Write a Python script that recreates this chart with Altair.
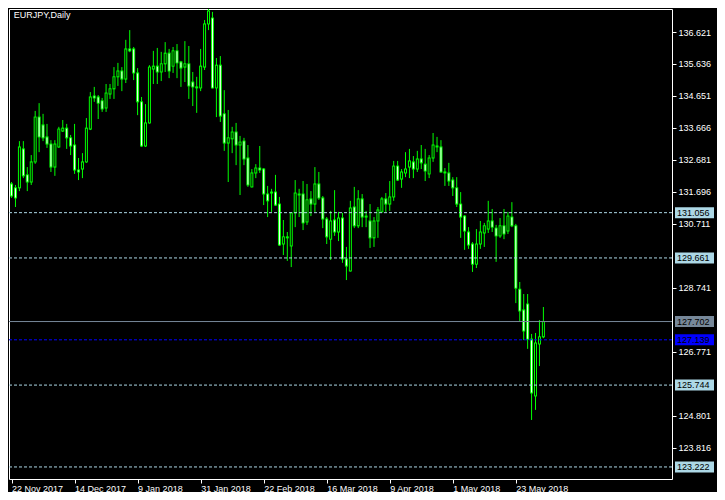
import altair as alt
import pandas as pd

# ---- EURJPY daily candles (22 Nov 2017 .. 1 Jun 2018) ----
open_ = [131.94, 131.82, 131.82, 133.02, 132.22, 132.00, 132.62, 134.00, 133.76, 133.39,
         133.17, 132.46, 133.08, 133.57, 133.66, 133.36, 133.14, 132.37, 132.40, 132.62,
         133.63, 134.65, 134.62, 134.50, 134.28, 134.71, 134.87, 135.24, 135.42, 135.17,
         136.10, 136.10, 135.36, 134.47, 133.11, 133.82, 135.48, 135.57, 135.39, 135.64,
         135.97, 135.57, 136.04, 135.70, 135.54, 135.64, 135.08, 134.93, 134.90, 135.54,
         136.87, 137.05, 134.90, 135.60, 134.10, 133.20, 133.33, 133.54, 133.14, 133.26,
         132.74, 131.85, 132.28, 132.43, 132.40, 131.63, 131.66, 131.69, 131.32, 130.09,
         130.31, 130.03, 131.05, 131.63, 131.63, 130.77, 131.48, 131.32, 131.94, 131.51,
         130.86, 130.24, 130.83, 130.46, 130.89, 129.63, 129.26, 131.23, 130.65, 131.48,
         130.95, 130.80, 130.28, 130.80, 131.08, 131.48, 131.32, 131.54, 132.49, 132.09,
         132.28, 132.46, 132.62, 132.40, 132.71, 132.55, 132.25, 132.74, 133.11, 133.08,
         132.31, 132.28, 132.06, 131.82, 131.32, 130.95, 130.46, 130.09, 129.47, 130.09,
         130.43, 130.55, 130.80, 130.58, 130.34, 130.65, 130.49, 130.92, 130.65, 128.70,
         128.06, 128.24, 127.16, 125.41, 127.01, 127.23]
high = [132.00, 131.91, 133.26, 133.26, 132.46, 132.83, 134.19, 134.43, 134.10, 133.79,
        133.29, 133.29, 133.70, 133.91, 133.79, 133.45, 133.79, 132.74, 132.89, 133.97,
        134.77, 134.93, 134.68, 134.59, 135.02, 135.02, 135.54, 135.67, 135.54, 136.38,
        136.68, 136.16, 135.51, 134.62, 134.40, 135.60, 136.04, 136.13, 136.01, 136.31,
        136.10, 136.16, 136.25, 135.73, 136.34, 136.19, 135.39, 135.24, 136.10, 136.99,
        137.52, 137.24, 135.82, 135.88, 134.83, 134.22, 133.70, 133.82, 133.42, 133.36,
        133.14, 132.40, 132.55, 133.11, 132.43, 131.88, 131.79, 132.22, 131.54, 130.83,
        130.46, 131.06, 132.06, 131.79, 132.03, 131.94, 131.72, 132.46, 132.31, 131.57,
        130.92, 131.11, 131.75, 131.08, 131.05, 130.00, 131.42, 131.85, 131.75, 131.63,
        131.11, 131.32, 130.92, 131.23, 131.54, 131.66, 132.03, 132.65, 132.65, 132.40,
        132.92, 133.02, 132.80, 132.96, 133.14, 133.02, 132.83, 133.51, 133.39, 133.29,
        132.43, 132.59, 132.15, 132.15, 131.69, 130.98, 130.61, 130.15, 130.55, 130.80,
        130.74, 131.42, 131.17, 130.68, 130.89, 131.17, 131.08, 131.38, 130.71, 128.92,
        128.55, 128.55, 127.32, 127.35, 127.75, 128.15]
low = [131.51, 131.23, 131.72, 132.12, 131.72, 131.91, 132.56, 132.92, 133.26, 133.05,
       132.31, 132.19, 133.05, 133.54, 133.02, 132.83, 132.25, 132.06, 132.12, 132.59,
       133.60, 134.47, 133.94, 134.16, 134.16, 134.56, 134.56, 134.96, 134.80, 135.05,
       136.00, 135.14, 134.06, 133.08, 133.08, 133.80, 135.02, 135.02, 135.11, 135.39,
       135.20, 135.36, 135.20, 134.93, 135.08, 134.56, 134.34, 134.13, 134.80, 135.45,
       136.68, 134.88, 134.00, 133.85, 132.96, 132.00, 132.89, 132.52, 131.60, 132.52,
       131.85, 131.83, 132.12, 132.28, 131.29, 130.92, 131.08, 131.26, 130.03, 129.75,
       129.57, 129.38, 130.61, 130.92, 130.52, 130.68, 130.95, 131.08, 131.45, 130.58,
       130.09, 129.60, 130.34, 130.18, 129.51, 128.98, 129.24, 130.58, 130.58, 130.61,
       130.61, 129.97, 130.00, 130.28, 131.06, 131.08, 131.11, 131.42, 132.03, 131.82,
       132.15, 132.12, 132.12, 132.31, 132.40, 132.03, 132.12, 132.62, 132.92, 132.28,
       131.88, 131.88, 131.57, 131.23, 130.28, 129.91, 129.94, 129.23, 129.35, 129.94,
       130.00, 130.43, 130.46, 129.54, 130.28, 130.24, 130.40, 130.61, 128.27, 127.69,
       127.13, 126.86, 124.67, 124.98, 126.33, 127.19]
close = [131.57, 131.51, 133.08, 132.19, 132.00, 132.62, 134.00, 133.39, 133.36, 133.17,
         132.46, 133.17, 133.63, 133.66, 133.36, 133.11, 132.37, 132.31, 132.62, 133.66,
         134.62, 134.59, 134.43, 134.25, 134.74, 134.87, 135.24, 135.42, 135.17, 136.10,
         136.04, 135.36, 134.47, 133.11, 133.82, 135.54, 135.57, 135.39, 135.64, 135.97,
         135.42, 136.04, 135.67, 135.51, 135.64, 134.96, 134.93, 134.90, 135.57, 136.87,
         137.27, 134.90, 135.60, 134.03, 133.20, 133.36, 133.54, 133.14, 133.23, 132.71,
         131.91, 132.28, 132.43, 132.37, 131.63, 131.42, 131.69, 131.29, 130.06, 130.31,
         130.28, 131.05, 131.66, 131.60, 130.74, 131.45, 131.32, 131.94, 131.51, 130.86,
         130.31, 130.80, 130.46, 130.89, 129.63, 129.41, 131.20, 130.65, 131.48, 130.92,
         130.92, 130.28, 130.80, 131.14, 131.48, 131.32, 131.54, 132.49, 132.06, 132.31,
         132.40, 132.65, 132.40, 132.71, 132.59, 132.34, 132.74, 133.14, 133.08, 132.31,
         132.28, 132.03, 131.82, 131.32, 130.92, 130.49, 130.06, 129.47, 130.09, 130.46,
         130.65, 130.80, 130.61, 130.34, 130.65, 130.40, 130.95, 130.65, 128.73, 128.03,
         127.41, 127.16, 125.50, 127.04, 127.23, 127.70]

# ---- axis texts ----
tick_index = [0, 16, 32, 48, 64, 80, 96, 112, 128]
tick_label = ["22 Nov 2017", "14 Dec 2017", "9 Jan 2018", "31 Jan 2018", "22 Feb 2018",
              "16 Mar 2018", "9 Apr 2018", "1 May 2018", "23 May 2018"]
price_ticks = [136.621, 135.636, 134.651, 133.666, 132.681, 131.696, 130.711,
               128.741, 126.771, 124.801, 123.816]

# ---- horizontal price levels ----
level_price = [131.056, 129.661, 127.702, 127.139, 125.744, 123.222]
level_color = ["#add8e6", "#add8e6", "#778899", "#0000ff", "#add8e6", "#add8e6"]
level_dashed = [True, True, False, True, True, True]
title_text = "EURJPY,Daily"

FONT = "Liberation Sans, Arial, sans-serif"
LIME = "#00ff00"

n = len(open_)
df = pd.DataFrame({"i": list(range(n)), "open": open_, "high": high, "low": low, "close": close})
df["top"] = df[["open", "close"]].max(axis=1)
df["bot"] = df[["open", "close"]].min(axis=1)

levels = pd.DataFrame({"price": level_price, "col": level_color, "dashed": level_dashed})
levels["text"] = [f"{v:.3f}" for v in level_price]

label_expr = " : ".join(f"datum.value == {k} ? '{s}'" for k, s in zip(tick_index, tick_label)) + " : ''"

# 4 px per trading day
x_scale = alt.Scale(domain=[0.625, 166.375], nice=False, zero=False)
y_scale = alt.Scale(domain=[122.851, 137.330], nice=False, zero=False)

x_axis = alt.Axis(values=tick_index, labelExpr=label_expr, labelAlign="left",
                  labelBaseline="top", tickSize=4, labelPadding=1, labelFlush=False,
                  labelOverlap=False, labelBound=False, title=None)
y_axis = alt.Axis(orient="right", values=price_ticks, format=".3f", tickSize=4,
                  labelPadding=2, labelOverlap=False, labelFlush=False, title=None)

wicks = alt.Chart(df).mark_rule(color=LIME, strokeWidth=1, clip=True).encode(
    x=alt.X("i:Q", scale=x_scale, axis=x_axis),
    y=alt.Y("low:Q", scale=y_scale, axis=y_axis),
    y2="high:Q",
)

body_outer = alt.Chart(df).mark_bar(width=3, color=LIME, clip=True,
                                    yOffset=-0.5, y2Offset=0.5).encode(
    x=alt.X("i:Q", scale=x_scale, axis=x_axis),
    y=alt.Y("top:Q", scale=y_scale, axis=y_axis),
    y2="bot:Q",
)

body_inner = alt.Chart(df).transform_filter(
    "datum.top - datum.bot > 0.045"
).mark_bar(width=1, clip=True, yOffset=0.5, y2Offset=-0.5).encode(
    x=alt.X("i:Q", scale=x_scale, axis=x_axis),
    y=alt.Y("top:Q", scale=y_scale, axis=y_axis),
    y2="bot:Q",
    color=alt.condition("datum.close < datum.open", alt.value("#ffffff"), alt.value("#000000")),
)

# price-level lines are drawn over the candles, as the terminal does with objects
lines = alt.Chart(levels).mark_rule(strokeWidth=1, clip=True).encode(
    y=alt.Y("price:Q", scale=y_scale, axis=y_axis),
    color=alt.Color("col:N", scale=None),
    strokeDash=alt.condition("datum.dashed", alt.value([3, 2]), alt.value([1, 0])),
)

boxes = alt.Chart(levels).mark_rect(yOffset=-5.5, y2Offset=5.5).encode(
    x=alt.value(666), x2=alt.value(705),
    y=alt.Y("price:Q", scale=y_scale, axis=y_axis),
    y2="price:Q",
    color=alt.Color("col:N", scale=None),
)

box_text = alt.Chart(levels).mark_text(align="left", baseline="middle", font=FONT,
                                       fontSize=9, color="#000000").encode(
    x=alt.value(668),
    y=alt.Y("price:Q", scale=y_scale, axis=y_axis),
    text="text:N",
)

title = alt.Chart(pd.DataFrame({"t": [title_text]})).mark_text(
    align="left", baseline="alphabetic", font=FONT, fontSize=9, color="#ffffff"
).encode(x=alt.value(4.7), y=alt.value(9), text="t:N")

chart = alt.layer(wicks, body_outer, body_inner, lines, boxes, box_text, title).properties(
    width=663, height=470,
    padding={"left": 1, "top": 1, "right": 45, "bottom": 13},
    autosize=alt.AutoSizeParams(type="none"),
    background="#000000",
).configure_view(
    stroke="#ffffff", strokeWidth=1
).configure_axis(
    labelFont=FONT, labelFontSize=9, labelColor="#ffffff", tickColor="#ffffff",
    domain=False, grid=False
)

chart.save("out.html", embed_options={"renderer": "svg", "actions": False})
